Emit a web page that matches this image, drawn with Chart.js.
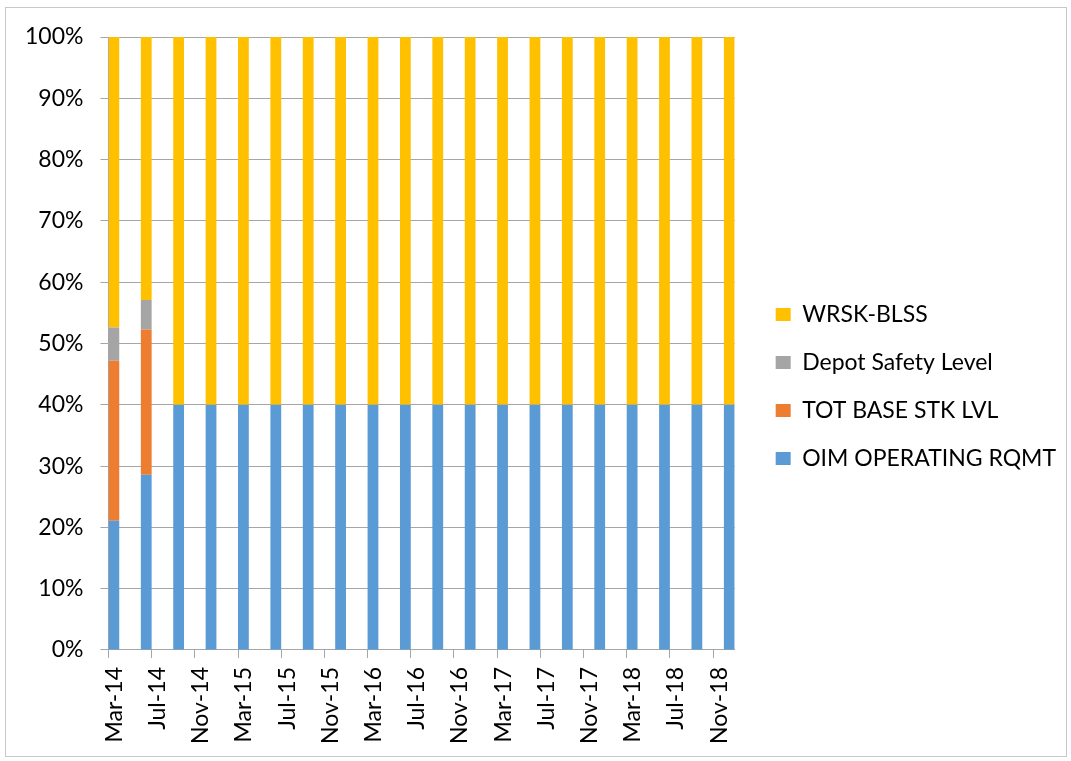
<!DOCTYPE html>
<html>
<head>
<meta charset="utf-8">
<script src="https://cdn.jsdelivr.net/npm/chart.js@4/dist/chart.umd.min.js"></script>
<style>
    html, body { margin: 0; padding: 0; background: #ffffff; }
    #frame { position: absolute; left: 5px; top: 7px; width: 1060px; height: 748px; border: 1px solid #c8c8c8; }
    #wrap { position: absolute; left: 0; top: 0; width: 1071px; height: 761px; }
</style>
</head>
<body>
<div id="frame"></div>
<div id="wrap"><canvas id="chart" width="1071" height="761"></canvas></div>
<script>
// quarterly periods (year-month), one bar each
const periods = [
    '2014-03', '2014-06', '2014-09', '2014-12',
    '2015-03', '2015-06', '2015-09', '2015-12',
    '2016-03', '2016-06', '2016-09', '2016-12',
    '2017-03', '2017-06', '2017-09', '2017-12',
    '2018-03', '2018-06', '2018-09', '2018-12'
];

// share of each bar, in percent
const oimOperating = [21.1, 28.6, 40, 40, 40, 40, 40, 40, 40, 40, 40, 40, 40, 40, 40, 40, 40, 40, 40, 40];
const totBaseStk   = [26.1, 23.7, 0, 0, 0, 0, 0, 0, 0, 0, 0, 0, 0, 0, 0, 0, 0, 0, 0, 0];
const depotSafety  = [5.4, 4.8, 0, 0, 0, 0, 0, 0, 0, 0, 0, 0, 0, 0, 0, 0, 0, 0, 0, 0];
const wrskBlss     = [47.4, 42.9, 60, 60, 60, 60, 60, 60, 60, 60, 60, 60, 60, 60, 60, 60, 60, 60, 60, 60];

// date axis labels, every 4 months starting Mar-14
const tickLabels = ['Mar-14', 'Jul-14', 'Nov-14', 'Mar-15', 'Jul-15', 'Nov-15', 'Mar-16', 'Jul-16',
                    'Nov-16', 'Mar-17', 'Jul-17', 'Nov-17', 'Mar-18', 'Jul-18', 'Nov-18'];

const FONT = "Lato, 'Open Sans', sans-serif";
const GRID = '#a6a6a6';

function monthOffset(p)
{
    let parts = p.split('-');
    return (parseInt(parts[0]) - 2014) * 12 + (parseInt(parts[1]) - 3);
}

function toPoints(values)
{
    // bar sits in the middle of its month slot
    return values.map((v, i) => ({x: monthOffset(periods[i]) + 0.5, y: v}));
}

function makeDataset(label, values, color)
{
    return {
        label: label,
        data: toPoints(values),
        backgroundColor: color,
        borderWidth: 0,
        barPercentage: 1,
        categoryPercentage: 0.333
    };
}

let ctx = document.getElementById('chart').getContext('2d');
let chart = new Chart(ctx, {
    type: 'bar',
    data: {
        datasets: [
            makeDataset('OIM OPERATING RQMT', oimOperating, '#5b9bd5'),
            makeDataset('TOT BASE STK LVL', totBaseStk, '#ed7d31'),
            makeDataset('Depot Safety Level', depotSafety, '#a5a5a5'),
            makeDataset('WRSK-BLSS', wrskBlss, '#ffc000')
        ]
    },
    options: {
        responsive: false,
        animation: false,
        layout: {
            padding: {left: 8, top: 20, right: 5, bottom: 8}
        },
        plugins: {
            legend: {
                position: 'right',
                reverse: true,
                maxWidth: 400,
                labels: {
                    boxWidth: 15,
                    boxHeight: 13,
                    padding: 25,
                    color: '#000',
                    font: {family: FONT, size: 23}
                }
            },
            tooltip: {enabled: false}
        },
        scales: {
            x: {
                type: 'linear',
                stacked: true,
                offset: false,
                min: 0,
                max: 58,
                grid: {
                    offset: false,
                    drawOnChartArea: false,
                    drawTicks: true,
                    tickLength: 8,
                    color: GRID
                },
                border: {color: GRID},
                ticks: {
                    stepSize: 4,
                    includeBounds: false,
                    autoSkip: false,
                    minRotation: 90,
                    maxRotation: 90,
                    padding: 9,
                    labelOffset: 6,
                    color: '#000',
                    font: {family: FONT, size: 23},
                    callback: function(value) {
                        return tickLabels[value / 4];
                    }
                }
            },
            y: {
                stacked: true,
                min: 0,
                max: 100,
                grid: {
                    color: GRID,
                    tickLength: 8
                },
                border: {color: GRID},
                ticks: {
                    stepSize: 10,
                    padding: 17,
                    color: '#000',
                    font: {family: FONT, size: 23},
                    callback: function(value) {
                        return value + '%';
                    }
                },
                afterFit: function(scale) {
                    // push the plot top down without moving the legend
                    scale.paddingTop = 37;
                }
            },
            // empty spacer between plot and legend
            gap: {
                position: 'right',
                grid: {display: false},
                border: {display: false},
                ticks: {display: false},
                afterFit: function(scale) {
                    scale.width = 16;
                }
            }
        }
    }
});
</script>
</body>
</html>
